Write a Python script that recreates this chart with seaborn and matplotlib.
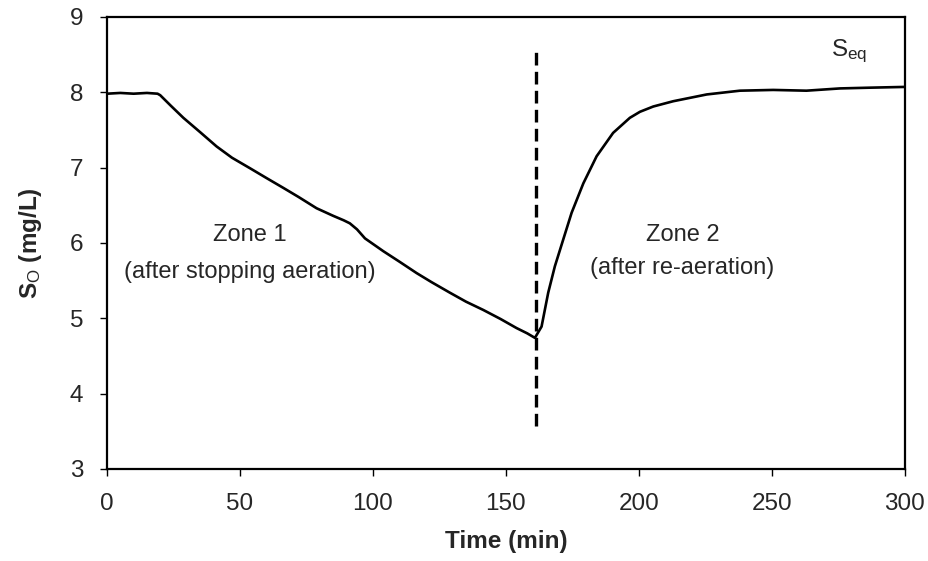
import matplotlib
matplotlib.use("Agg")
import matplotlib.pyplot as plt
import seaborn as sns
import pandas as pd

# Data
time_min = [0, 5, 10, 15, 19, 20, 24, 28.7, 35, 41.2, 47, 53.8, 60, 66.3, 72, 78.8, 85,
            89, 91.3, 94, 97, 103.9, 110, 116.4, 122, 128.9, 135, 141.5, 148, 154, 158, 160.9,
            163.4, 165.9, 168.4, 171.5, 174.7, 179.1, 184.1, 190.3, 196.6, 200.4, 205.4,
            212.9, 225.5, 238, 250.5, 263, 275.6, 287, 300]
so_mg_l = [7.98, 7.99, 7.98, 7.99, 7.98, 7.96, 7.82, 7.66, 7.47, 7.28, 7.13, 6.99, 6.86, 6.73,
           6.61, 6.46, 6.36, 6.30, 6.26, 6.18, 6.06, 5.89, 5.75, 5.60, 5.48, 5.34, 5.22, 5.11,
           4.99, 4.87, 4.80, 4.74,
           4.89, 5.34, 5.69, 6.04, 6.40, 6.79, 7.15, 7.46, 7.66, 7.74, 7.81,
           7.88, 7.97, 8.02, 8.03, 8.02, 8.05, 8.06, 8.07]
divider_time = 161.3
divider_range = [3.57, 8.61]
x_ticks = [0, 50, 100, 150, 200, 250, 300]
y_ticks = [3, 4, 5, 6, 7, 8, 9]
zone_titles = ["Zone 1", "Zone 2"]
zone_notes = ["(after stopping aeration)", "(after re-aeration)"]
zone_x = [53.8, 216.4]
zone_title_y = [6.11, 6.11]
zone_note_y = [5.62, 5.67]
seq_pos = (272.3, 8.54)

sns.set_style("ticks")
plt.rcParams["font.family"] = ["Liberation Sans", "DejaVu Sans"]
plt.rcParams["mathtext.fontset"] = "custom"
plt.rcParams["mathtext.rm"] = "Liberation Sans"
plt.rcParams["mathtext.it"] = "Liberation Sans:italic"
plt.rcParams["mathtext.bf"] = "Liberation Sans:bold"

fig = plt.figure(figsize=(9.29, 5.61), dpi=100)
ax = fig.add_axes([0.1152, 0.164, 0.8588, 0.806])

df = pd.DataFrame({"Time": time_min, "SO": so_mg_l})
sns.lineplot(data=df, x="Time", y="SO", ax=ax, color="black", linewidth=1.9)

ax.plot([divider_time, divider_time], divider_range, color="black",
        linestyle=(0, (3.8, 1.9)), linewidth=2.4)

for tx, t1, y1, t2, y2 in zip(zone_x, zone_titles, zone_title_y, zone_notes, zone_note_y):
    ax.text(tx, y1, t1, ha="center", va="center", fontsize=17)
    ax.text(tx, y2, t2, ha="center", va="center", fontsize=17)
ax.text(seq_pos[0], seq_pos[1], r"S$_{\mathrm{eq}}$", ha="left", va="center", fontsize=17.5)

ax.set_xlim(0, 300)
ax.set_ylim(3, 9)
ax.set_xticks(x_ticks)
ax.set_yticks(y_ticks)
ax.tick_params(axis="both", labelsize=17.5, direction="out", length=5, width=1, color="black")
ax.tick_params(axis="x", pad=12)
ax.tick_params(axis="y", pad=12)
ax.set_xlabel("Time (min)", fontsize=17.5, fontweight="bold", labelpad=11)
ax.set_ylabel(r"$\mathbf{S}_{\mathrm{O}}$ (mg/L)", fontsize=17.5, fontweight="bold", labelpad=19)
for s in ax.spines.values():
    s.set_visible(True)
    s.set_linewidth(1.6)
    s.set_color("black")

fig.savefig("out.png", dpi=100)
